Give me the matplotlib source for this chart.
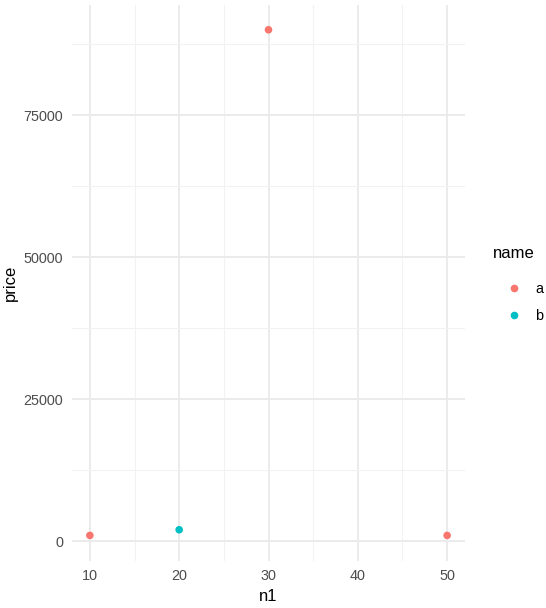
import matplotlib
matplotlib.use("Agg")
import matplotlib.pyplot as plt
from matplotlib.lines import Line2D

plt.rcParams['font.family'] = ['Liberation Sans', 'DejaVu Sans']

# data
n1 = [10, 20, 30, 50]
price = [1000, 2000, 90000, 1000]
name = ['a', 'b', 'a', 'a']
groups = ['a', 'b']
palette = {'a': '#F8766D', 'b': '#00BFC4'}

xticks = [10, 20, 30, 40, 50]
xminor = [15, 25, 35, 45]
yticks = [0, 25000, 50000, 75000]
yminor = [12500, 37500, 62500, 87500]

W, H = 546, 608
fig = plt.figure(figsize=(W / 100, H / 100), dpi=100)
ax = fig.add_axes([72 / W, 1 - 560.7 / H, (465 - 72) / W, (560.7 - 4.5) / H])

for g in groups:
    xs = [x for x, k in zip(n1, name) if k == g]
    ys = [y for y, k in zip(price, name) if k == g]
    ax.scatter(xs, ys, s=30, color=palette[g], edgecolors='none', zorder=3)

# ggplot style expansion (5%)
xr = max(n1) - min(n1)
yr = max(price) - min(price)
ax.set_xlim(min(n1) - 0.05 * xr, max(n1) + 0.05 * xr)
ax.set_ylim(min(price) - 0.05 * yr, max(price) + 0.05 * yr)

ax.set_xticks(xticks)
ax.set_yticks(yticks)
ax.set_xticks(xminor, minor=True)
ax.set_yticks(yminor, minor=True)
ax.grid(which='major', color='#EBEBEB', linewidth=1.4)
ax.grid(which='minor', color='#F2F2F2', linewidth=0.8)
ax.set_axisbelow(True)
ax.tick_params(which='both', length=0, labelsize=10.4, labelcolor='#4D4D4D')
ax.tick_params(axis='x', pad=6)
ax.tick_params(axis='y', pad=6.5)
for s in ax.spines.values():
    s.set_visible(False)

ax.set_xlabel('n1', fontsize=12, labelpad=4)
ax.set_ylabel('price', fontsize=12, labelpad=4)

# legend: title as text, keys via fig.legend
fig.text(493 / W, 1 - 253 / H, 'name', fontsize=12, ha='left', va='center')
handles = [Line2D([], [], marker='o', linestyle='none', markersize=5.5,
                  markerfacecolor=palette[g], markeredgecolor='none') for g in groups]
leg = fig.legend(handles, groups, loc='upper left',
                 bbox_to_anchor=(493 / W, 1 - 275 / H), frameon=False,
                 borderpad=0, fontsize=10.4,
                 handlelength=1.85, handletextpad=0.58, labelspacing=0.875)

fig.savefig('out.png', dpi=100)
